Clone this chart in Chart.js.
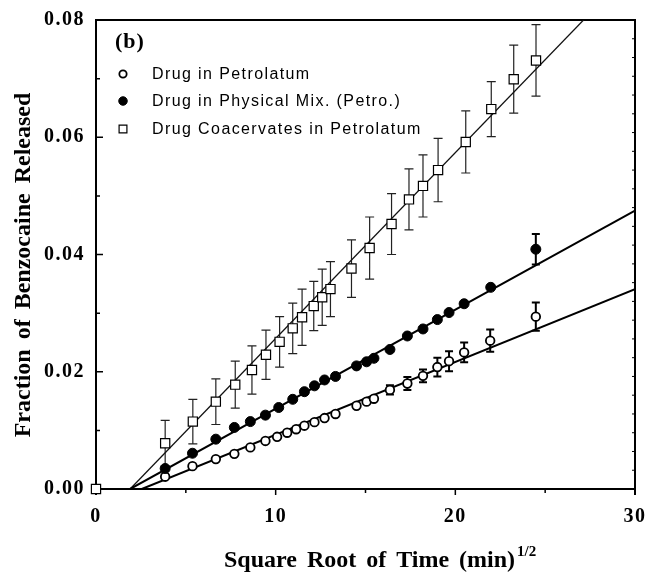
<!DOCTYPE html>
<html>
<head>
<meta charset="utf-8">
<script src="https://cdn.jsdelivr.net/npm/chart.js@4.4.1/dist/chart.umd.min.js"></script>
<style>
  html, body { margin: 0; padding: 0; background: #fff; }
  #wrap { width: 645px; height: 574px; }
</style>
</head>
<body>
<div id="wrap"><canvas id="chart" width="645" height="574"></canvas></div>
<script>
// square root of time (min^1/2) and fraction released
const petroX   = [3.85, 5.37, 6.67, 7.7, 8.59, 9.43, 10.08, 10.64, 11.14, 11.6, 12.16, 12.72, 13.33, 14.5, 15.06, 15.47, 16.36, 17.33, 18.2, 19.0, 19.65, 20.49, 21.94, 24.48];
const petroY   = [0.0021, 0.0039, 0.0051, 0.0060, 0.0071, 0.0082, 0.0089, 0.0096, 0.0102, 0.0108, 0.0114, 0.0121, 0.0128, 0.0142, 0.0149, 0.0154, 0.0169, 0.0180, 0.0193, 0.0208, 0.0218, 0.0233, 0.0253, 0.0294];
const petroErr = [0, 0, 0, 0, 0, 0, 0, 0, 0, 0, 0, 0, 0, 0, 0, 0, 0.0008, 0.0011, 0.0011, 0.0016, 0.0017, 0.0017, 0.0019, 0.0024];

const mixX   = [3.85, 5.37, 6.67, 7.7, 8.59, 9.43, 10.17, 10.95, 11.6, 12.16, 12.72, 13.33, 14.5, 15.06, 15.47, 16.36, 17.33, 18.2, 19.0, 19.65, 20.49, 21.97, 24.48];
const mixY   = [0.0035, 0.0061, 0.0085, 0.0105, 0.0115, 0.0126, 0.0139, 0.0153, 0.0166, 0.0176, 0.0186, 0.0192, 0.0210, 0.0217, 0.0223, 0.0238, 0.0261, 0.0273, 0.0289, 0.0301, 0.0316, 0.0344, 0.0409];
const mixErr = [0, 0, 0, 0, 0, 0, 0, 0, 0, 0, 0, 0, 0, 0, 0, 0, 0, 0, 0, 0, 0, 0, 0.0026];

const coacX   = [0, 3.85, 5.39, 6.67, 7.75, 8.68, 9.46, 10.22, 10.95, 11.47, 12.12, 12.59, 13.05, 14.22, 15.23, 16.45, 17.42, 18.2, 19.04, 20.58, 22.0, 23.25, 24.49];
const coacY   = [0, 0.0078, 0.0115, 0.0149, 0.0178, 0.0203, 0.0229, 0.0251, 0.0274, 0.0293, 0.0312, 0.0327, 0.0341, 0.0376, 0.0411, 0.0452, 0.0494, 0.0517, 0.0544, 0.0592, 0.0648, 0.0699, 0.0731];
const coacErr = [0, 0.0039, 0.0038, 0.0039, 0.0040, 0.0041, 0.0042, 0.0043, 0.0043, 0.0048, 0.0042, 0.0048, 0.0047, 0.0049, 0.0053, 0.0052, 0.0052, 0.0053, 0.0054, 0.0053, 0.0047, 0.0058, 0.0061];

// linear fits: x intercept and slope
const fitX0    = [2.55, 1.9, 1.9];
const fitSlope = [0.001242, 0.00169, 0.00317];

const xTicks = [0, 10, 20, 30];
const xMinor = [5, 15, 25];
const yTicks = [0, 0.02, 0.04, 0.06, 0.08];
const yMinor = [0.01, 0.03, 0.05, 0.07];

const legendLabels = ['Drug in Petrolatum', 'Drug in Physical Mix. (Petro.)', 'Drug Coacervates in Petrolatum'];

const serif = '"Liberation Serif", "Times New Roman", serif';
const sans = '"Liberation Sans", Arial, sans-serif';

function pts(xs, ys) {
  return xs.map((x, i) => ({ x: x, y: ys[i] }));
}
function fitLine(k) {
  return [{ x: fitX0[k], y: 0 }, { x: 30, y: fitSlope[k] * (30 - fitX0[k]) }];
}

const markers = [
  { pointStyle: 'circle', radius: 4.3, fill: '#fff', bw: 1.8 },
  { pointStyle: 'circle', radius: 5, fill: '#000', bw: 1 },
  { pointStyle: 'rect', radius: 6.5, fill: '#fff', bw: 1.2 }
];
const errSets = [
  { xs: petroX, ys: petroY, es: petroErr, lw: 2, cap: 4 },
  { xs: mixX, ys: mixY, es: mixErr, lw: 2, cap: 4 },
  { xs: coacX, ys: coacY, es: coacErr, lw: 1.2, cap: 4.5 }
];

const decor = {
  id: 'decor',
  beforeDraw(chart) {
    chart.ctx.letterSpacing = '1.5px';
  },
  beforeDatasetsDraw(chart) {
    const { ctx, chartArea: a, scales: { x, y } } = chart;
    ctx.save();
    ctx.letterSpacing = '0px';
    ctx.strokeStyle = '#000';
    ctx.lineWidth = 2;
    ctx.beginPath();
    ctx.moveTo(a.left, a.top);
    ctx.lineTo(a.right, a.top);
    ctx.lineTo(a.right, a.bottom + 6);
    ctx.moveTo(a.left, a.bottom);
    ctx.lineTo(a.left, a.bottom + 6);
    ctx.stroke();

    // y ticks point inward, x ticks hang below
    ctx.lineWidth = 1.5;
    ctx.beginPath();
    yTicks.forEach(v => { const p = y.getPixelForValue(v); ctx.moveTo(a.left, p); ctx.lineTo(a.left + 7, p); });
    yMinor.forEach(v => { const p = y.getPixelForValue(v); ctx.moveTo(a.left, p); ctx.lineTo(a.left + 4, p); });
    xTicks.forEach(v => { const p = x.getPixelForValue(v); ctx.moveTo(p, a.bottom); ctx.lineTo(p, a.bottom + 6); });
    xMinor.forEach(v => { const p = x.getPixelForValue(v); ctx.moveTo(p, a.bottom); ctx.lineTo(p, a.bottom + 4); });
    ctx.stroke();
    ctx.lineWidth = 1;
    ctx.beginPath();
    for (let v = 0.0032; v < 0.08; v += 0.0032) {
      const p = y.getPixelForValue(v);
      ctx.moveTo(a.right, p);
      ctx.lineTo(a.right - 3, p);
    }
    ctx.stroke();

    // error bars
    errSets.forEach(s => {
      ctx.lineWidth = s.lw;
      ctx.strokeStyle = s.lw < 2 ? '#222' : '#000';
      ctx.beginPath();
      s.xs.forEach((xv, i) => {
        const e = s.es[i];
        if (!e) return;
        const px = x.getPixelForValue(xv);
        const top = y.getPixelForValue(s.ys[i] + e);
        const bot = y.getPixelForValue(s.ys[i] - e);
        ctx.moveTo(px, top); ctx.lineTo(px, bot);
        ctx.moveTo(px - s.cap, top); ctx.lineTo(px + s.cap, top);
        ctx.moveTo(px - s.cap, bot); ctx.lineTo(px + s.cap, bot);
      });
      ctx.stroke();
    });
    ctx.restore();
  },
  afterDraw(chart) {
    const { ctx, chartArea: a } = chart;
    ctx.save();
    ctx.fillStyle = '#000';
    ctx.strokeStyle = '#000';

    // panel tag
    ctx.letterSpacing = '1px';
    ctx.font = 'bold 22px ' + serif;
    ctx.textAlign = 'left';
    ctx.textBaseline = 'middle';
    ctx.fillText('(b)', a.left + 19, a.top + 22);

    // legend
    ctx.font = '16px ' + sans;
    ctx.letterSpacing = '1.4px';
    const rows = [74, 101, 129];
    legendLabels.forEach((t, i) => {
      const m = markers[i];
      ctx.fillStyle = m.fill;
      ctx.lineWidth = m.bw;
      Chart.helpers.drawPoint(ctx, { pointStyle: m.pointStyle, radius: m.radius * 0.85, borderWidth: m.bw, rotation: 0 }, a.left + 27, rows[i]);
      ctx.fillStyle = '#000';
      ctx.fillText(t, a.left + 56, rows[i] + 1);
    });

    // axis titles
    ctx.letterSpacing = '0px';
    ctx.wordSpacing = '4px';
    ctx.font = 'bold 24px ' + serif;
    ctx.save();
    ctx.translate(24, 265);
    ctx.rotate(-Math.PI / 2);
    ctx.textAlign = 'center';
    ctx.textBaseline = 'middle';
    ctx.fillText('Fraction of Benzocaine Released', 0, 0);
    ctx.restore();

    ctx.textAlign = 'left';
    ctx.textBaseline = 'alphabetic';
    const main = 'Square Root of Time (min)';
    const x0 = a.left + 128;
    ctx.fillText(main, x0, 567);
    const w = ctx.measureText(main).width;
    ctx.font = 'bold 15px ' + serif;
    ctx.fillText('1/2', x0 + w + 2, 556);
    ctx.restore();
  }
};

const pointBase = { showLine: false, clip: false, pointBorderColor: '#000', pointHoverRadius: 0 };

new Chart(document.getElementById('chart'), {
  type: 'scatter',
  data: {
    datasets: [
      Object.assign({}, pointBase, {
        label: legendLabels[0], data: pts(petroX, petroY), order: 2,
        pointStyle: markers[0].pointStyle, pointRadius: markers[0].radius,
        pointBackgroundColor: markers[0].fill, pointBorderWidth: markers[0].bw
      }),
      Object.assign({}, pointBase, {
        label: legendLabels[1], data: pts(mixX, mixY), order: 1,
        pointStyle: markers[1].pointStyle, pointRadius: markers[1].radius,
        pointBackgroundColor: markers[1].fill, pointBorderWidth: markers[1].bw
      }),
      Object.assign({}, pointBase, {
        label: legendLabels[2], data: pts(coacX, coacY), order: 0,
        pointStyle: markers[2].pointStyle, pointRadius: markers[2].radius,
        pointBackgroundColor: markers[2].fill, pointBorderWidth: markers[2].bw
      }),
      { label: 'fit petro', data: fitLine(0), showLine: true, borderColor: '#000', borderWidth: 2, pointRadius: 0, order: 5 },
      { label: 'fit mix', data: fitLine(1), showLine: true, borderColor: '#000', borderWidth: 2, pointRadius: 0, order: 5 },
      { label: 'fit coac', data: fitLine(2), showLine: true, borderColor: '#111', borderWidth: 1.3, pointRadius: 0, order: 5 }
    ]
  },
  options: {
    responsive: false,
    animation: false,
    events: [],
    layout: { padding: { top: 20, right: 10, left: 0, bottom: 0 } },
    plugins: {
      legend: { display: false },
      tooltip: { enabled: false }
    },
    scales: {
      x: {
        type: 'linear',
        min: 0,
        max: 30,
        afterBuildTicks: s => { s.ticks = xTicks.map(v => ({ value: v })); },
        afterFit: s => { s.height = 85; s.paddingLeft = 0; s.paddingRight = 0; },
        grid: { display: false, drawTicks: false },
        border: { display: true, color: '#000', width: 2 },
        ticks: {
          color: '#000',
          padding: 16,
          maxRotation: 0,
          font: { family: serif, size: 20, weight: 'bold' }
        }
      },
      y: {
        type: 'linear',
        min: 0,
        max: 0.08,
        afterBuildTicks: s => { s.ticks = yTicks.map(v => ({ value: v })); },
        afterFit: s => { s.width = 96; s.paddingTop = 0; s.paddingBottom = 0; },
        grid: { display: false, drawTicks: false },
        border: { display: true, color: '#000', width: 2 },
        ticks: {
          color: '#000',
          padding: 11,
          font: { family: serif, size: 20, weight: 'bold' },
          callback: v => v.toFixed(2)
        }
      }
    }
  },
  plugins: [decor]
});
</script>
</body>
</html>
